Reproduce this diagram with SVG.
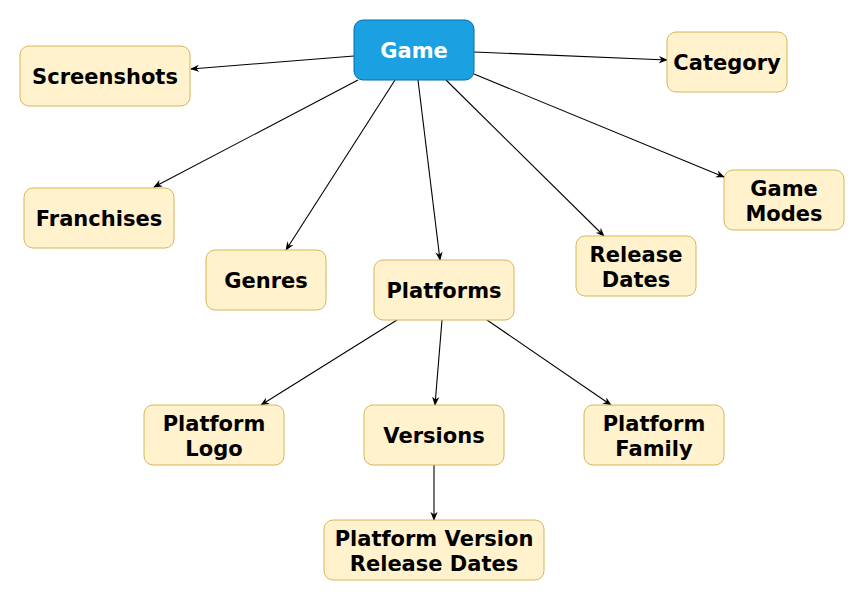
<svg xmlns="http://www.w3.org/2000/svg" width="865" height="601" viewBox="0 0 865 601">
<defs>
<marker id="arr" viewBox="0 0 10 10" refX="9" refY="5" markerWidth="9" markerHeight="9" markerUnits="userSpaceOnUse" orient="auto">
<path d="M0,1 L10,5 L0,9 L3,5 Z" fill="#000"/>
</marker>
</defs>
<style>
.n{fill:#FFF2CC;stroke:#D6B656;stroke-width:1}
.g{fill:#1BA1E2;stroke:#006EAF;stroke-width:1}
text{font-family:"DejaVu Sans",Verdana,sans-serif;font-weight:bold;font-size:21px;text-anchor:middle;fill:#000}
.w{fill:#fff}
.e line{stroke:#000;stroke-width:1.1;marker-end:url(#arr)}
</style>
<rect width="865" height="601" fill="#fff"/>
<g class="e" id="connectors">
<line x1="354" y1="56" x2="191" y2="69"/>
<line x1="474" y1="52" x2="667" y2="60"/>
<line x1="358" y1="80" x2="154" y2="187"/>
<line x1="395" y1="80" x2="286" y2="250"/>
<line x1="418" y1="80" x2="440" y2="260"/>
<line x1="446" y1="80" x2="604" y2="236"/>
<line x1="474" y1="74" x2="724" y2="177"/>
<line x1="397" y1="320" x2="261" y2="405"/>
<line x1="442" y1="320" x2="435" y2="405"/>
<line x1="487" y1="320" x2="611" y2="405"/>
<line x1="434" y1="465" x2="434" y2="520"/>
</g>
<g id="game"><rect class="g" x="354" y="20" width="120" height="60" rx="9"/><text class="w" x="414" y="58">Game</text></g>
<g id="screenshots"><rect class="n" x="20" y="46" width="170" height="60" rx="9"/><text x="105" y="84">Screenshots</text></g>
<g id="category"><rect class="n" x="667" y="32" width="120" height="60" rx="9"/><text x="727" y="70">Category</text></g>
<g id="franchises"><rect class="n" x="24" y="188" width="150" height="60" rx="9"/><text x="99" y="226">Franchises</text></g>
<g id="genres"><rect class="n" x="206" y="250" width="120" height="60" rx="9"/><text x="266" y="288">Genres</text></g>
<g id="platforms"><rect class="n" x="374" y="260" width="140" height="60" rx="9"/><text x="444" y="298">Platforms</text></g>
<g id="release-dates"><rect class="n" x="576" y="236" width="120" height="60" rx="9"/><text x="636" y="262">Release</text><text x="636" y="287">Dates</text></g>
<g id="game-modes"><rect class="n" x="724" y="170" width="120" height="60" rx="9"/><text x="784" y="196">Game</text><text x="784" y="221">Modes</text></g>
<g id="platform-logo"><rect class="n" x="144" y="405" width="140" height="60" rx="9"/><text x="214" y="431">Platform</text><text x="214" y="456">Logo</text></g>
<g id="versions"><rect class="n" x="364" y="405" width="140" height="60" rx="9"/><text x="434" y="443">Versions</text></g>
<g id="platform-family"><rect class="n" x="584" y="405" width="140" height="60" rx="9"/><text x="654" y="431">Platform</text><text x="654" y="456">Family</text></g>
<g id="pvrd"><rect class="n" x="324" y="520" width="220" height="60" rx="9"/><text x="434" y="546">Platform Version</text><text x="434" y="571">Release Dates</text></g>
</svg>
